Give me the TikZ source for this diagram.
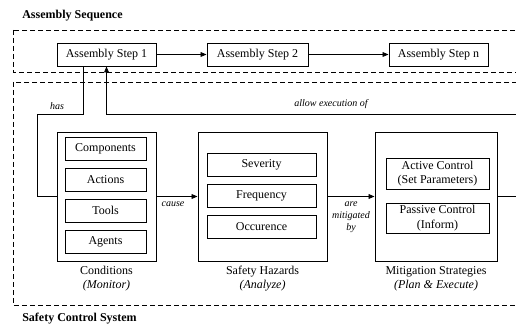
\documentclass[tikz,border=0pt]{standalone}
\usepackage{fontspec}
\setmainfont{Liberation Serif}
\usetikzlibrary{arrows.meta}
\begin{document}
\begin{tikzpicture}[x=0.75pt,y=-0.75pt,
  box/.style={draw=black,line width=0.7pt,inner sep=0pt,font=\fontsize{9}{11}\selectfont,align=center,minimum height=17.25pt},
  grp/.style={draw=black,line width=0.7pt,inner sep=0pt,minimum height=96.75pt},
  zone/.style={draw=black,line width=0.6pt,dash pattern=on 3.8pt off 2.2pt},
  conn/.style={draw=black,line width=0.6pt},
  arr/.style={conn,-{Triangle[length=4.5pt,width=3.6pt]}},
  lbl/.style={font=\fontsize{7.5}{9}\selectfont\itshape,align=center,inner sep=0pt},
  captxt/.style={font=\fontsize{9}{10.5}\selectfont,align=center,inner sep=0pt},
  ttl/.style={font=\fontsize{9}{11}\selectfont\bfseries,anchor=west,inner sep=0pt}]
\useasboundingbox (0,0) rectangle (516,327);
\clip (0,0) rectangle (516,327);
% zones
\draw[zone] (13,30) rectangle (530,72);
\draw[zone] (13,82) rectangle (530,305);
\node[ttl] (t1) at (22,16) {Assembly Sequence};
\node[ttl] (t2) at (22,319) {Safety Control System};
% assembly steps
\node[box,minimum width=74.25pt] (s1) at (106.5,54.5) {Assembly Step 1};
\node[box,minimum width=75.75pt] (s2) at (257.5,54.5) {Assembly Step 2};
\node[box,minimum width=74.25pt] (sn) at (438.5,54.5) {Assembly Step n};
% groups
\node[grp,minimum width=74.25pt] (cond) at (106.5,196.5) {};
\node[grp,minimum width=96.75pt] (haz) at (262.5,196.5) {};
\node[grp,minimum width=91.5pt] (mit) at (436,196.5) {};
% condition items
\node[box,minimum width=60.75pt] (c1) at (105.5,148.5) {Components};
\node[box,minimum width=60.75pt] (c2) at (105.5,179.5) {Actions};
\node[box,minimum width=60.75pt] (c3) at (105.5,210.5) {Tools};
\node[box,minimum width=60.75pt] (c4) at (105.5,241.5) {Agents};
% hazard items
\node[box,minimum width=81.75pt] (h1) at (261.5,165) {Severity};
\node[box,minimum width=81.75pt] (h2) at (261.5,195.5) {Frequency};
\node[box,minimum width=81.75pt] (h3) at (261.5,226.5) {Occurence};
% mitigation items
\node[box,minimum width=77.25pt,minimum height=23.25pt] (m1) at (437.5,173.5) {Active Control\\(Set Parameters)};
\node[box,minimum width=77.25pt,minimum height=22.5pt] (m2) at (437.5,218) {Passive Control\\(Inform)};
% captions
\node[captxt] (capc) at (106.5,279) {Conditions\\\textit{(Monitor)}};
\node[captxt] (caph) at (262.5,279) {Safety Hazards\\\textit{(Analyze)}};
\node[captxt] (capm) at (436,279) {Mitigation Strategies\\\textit{(Plan \& Execute)}};
% connectors
\draw[arr] (s1) -- (s2);
\draw[arr] (s2) -- (sn);
\coordinate (hasA) at (83,114);
\coordinate (hasB) at (37,114);
\draw[conn] (s1.south -| hasA) -- (hasA) -- (hasB) |- (cond.west);
\node[lbl] (lhas) at (57,106) {has};
\coordinate (aeStart) at (530,114);
\draw[arr] (aeStart) -| (s1.south);
\node[lbl] (lae) at (331,104) {allow execution of};
\draw[arr] (cond.east) -- (haz.west);
\node[lbl] (lcause) at (173,204) {cause};
\draw[arr] (haz.east) -- (mit.west);
\node[lbl] (lmit) at (351,217) {are\\mitigated\\by};
\coordinate (outEnd) at (530,196.5);
\draw[conn] (mit.east) -- (outEnd);
\end{tikzpicture}
\end{document}
